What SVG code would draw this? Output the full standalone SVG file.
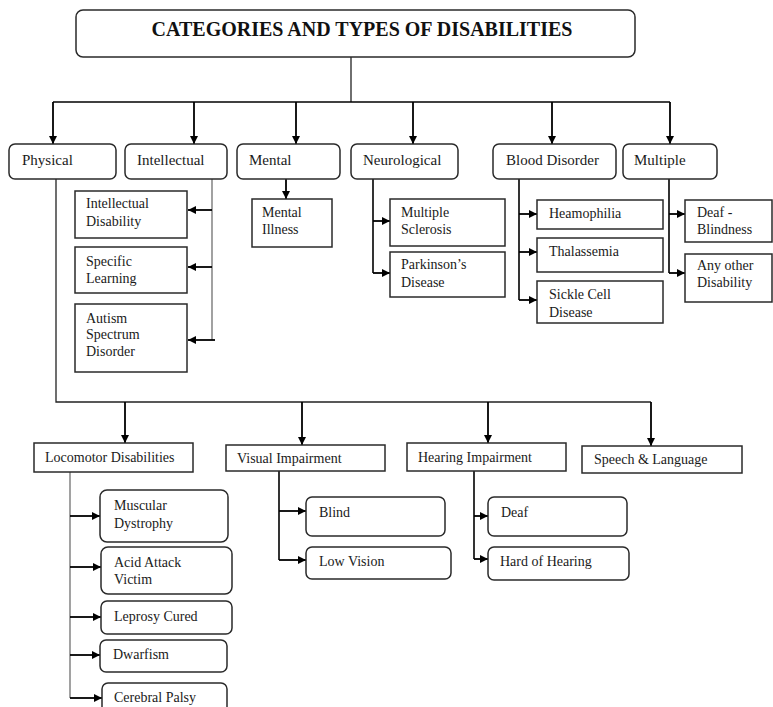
<svg xmlns="http://www.w3.org/2000/svg" width="773" height="707" viewBox="0 0 773 707">
<defs>
<marker id="ah" viewBox="0 0 10 10" refX="10" refY="5" markerWidth="8" markerHeight="8" markerUnits="userSpaceOnUse" orient="auto">
<path d="M0,0 L10,5 L0,10 z" fill="#000"/>
</marker>
<style>
.box{fill:#fff;stroke:#2a2a2a;stroke-width:1.5}
.t{font-family:"Liberation Serif","Times New Roman",serif;font-size:14px;fill:#1a1a1a}
.c{font-family:"Liberation Serif","Times New Roman",serif;font-size:15px;fill:#1a1a1a}
.title{font-family:"Liberation Serif","Times New Roman",serif;font-size:20px;font-weight:bold;fill:#111}
.ln{fill:none;stroke:#000;stroke-width:1.6}
.mid{fill:none;stroke:#222;stroke-width:1.3}
.thin{fill:none;stroke:#555;stroke-width:1.1}
.ar{fill:none;stroke:#000;stroke-width:1.8;marker-end:url(#ah)}
</style>
</defs>
<rect width="773" height="707" fill="#fff"/>

<g id="connectors">
<path class="mid" d="M351,57 V102"/>
<path class="ln" d="M53,102 H670"/>
<path class="ar" d="M53,102 V144"/>
<path class="ar" d="M194,102 V144"/>
<path class="ar" d="M296,102 V144"/>
<path class="ar" d="M413,102 V144"/>
<path class="ar" d="M552,102 V144"/>
<path class="ar" d="M670,102 V144"/>
<path class="thin" d="M212,179 V340"/>
<path class="ar" d="M212,210 H188"/>
<path class="ar" d="M212,267 H188"/>
<path class="ar" d="M215,340 H188"/>
<path class="ar" d="M286,179 V199"/>
<path class="ln" d="M373,179 V273"/>
<path class="ar" d="M373,221 H390"/>
<path class="ar" d="M373,273 H390"/>
<path class="ln" d="M519,179 V300"/>
<path class="ar" d="M519,214 H537"/>
<path class="ar" d="M519,252 H537"/>
<path class="ar" d="M519,300 H537"/>
<path class="ln" d="M669,179 V273"/>
<path class="ar" d="M669,214 H685"/>
<path class="ar" d="M669,273 H685"/>
<path class="mid" d="M56,179 V402 H651"/>
<path class="ar" d="M125,402 V443"/>
<path class="ar" d="M302,402 V445"/>
<path class="ar" d="M488,402 V443"/>
<path class="ar" d="M651,402 V446"/>
<path class="thin" d="M70,472 V698"/>
<path class="ar" d="M70,516 H100"/>
<path class="ar" d="M70,567 H101"/>
<path class="ar" d="M70,617 H101"/>
<path class="ar" d="M70,655 H100"/>
<path class="ar" d="M70,698 H102"/>
<path class="ln" d="M279,471 V560"/>
<path class="ar" d="M279,511 H306"/>
<path class="ar" d="M279,560 H306"/>
<path class="ln" d="M474,471 V559"/>
<path class="ar" d="M474,516 H488"/>
<path class="ar" d="M474,559 H488"/>
</g>

<g id="title"><rect class="box" x="76" y="10" width="559" height="47" rx="7"/><text class="title" x="362" y="36" text-anchor="middle">CATEGORIES AND TYPES OF DISABILITIES</text></g>

<g id="physical"><rect class="box" x="9" y="144" width="107" height="35" rx="6"/><text class="c" x="22" y="165">Physical</text></g>
<g id="intellectual"><rect class="box" x="125" y="144" width="102" height="35" rx="6"/><text class="c" x="137" y="165">Intellectual</text></g>
<g id="mental"><rect class="box" x="237" y="144" width="103" height="35" rx="6"/><text class="c" x="249" y="165">Mental</text></g>
<g id="neurological"><rect class="box" x="351" y="144" width="107" height="35" rx="6"/><text class="c" x="363" y="165">Neurological</text></g>
<g id="blood"><rect class="box" x="493" y="144" width="123" height="35" rx="6"/><text class="c" x="506" y="165">Blood Disorder</text></g>
<g id="multiple"><rect class="box" x="623" y="144" width="94" height="35" rx="6"/><text class="c" x="634" y="165">Multiple</text></g>

<g id="intellectual-disability"><rect class="box" x="75" y="191" width="112" height="47"/><text class="t" x="86" y="208">Intellectual</text><text class="t" x="86" y="226">Disability</text></g>
<g id="specific-learning"><rect class="box" x="75" y="247" width="112" height="46"/><text class="t" x="86" y="266">Specific</text><text class="t" x="86" y="283">Learning</text></g>
<g id="autism"><rect class="box" x="75" y="304" width="112" height="68"/><text class="t" x="86" y="323">Autism</text><text class="t" x="86" y="339">Spectrum</text><text class="t" x="86" y="356">Disorder</text></g>

<g id="mental-illness"><rect class="box" x="252" y="199" width="80" height="48"/><text class="t" x="262" y="217">Mental</text><text class="t" x="262" y="234">Illness</text></g>

<g id="ms"><rect class="box" x="390" y="199" width="115" height="47"/><text class="t" x="401" y="217">Multiple</text><text class="t" x="401" y="234">Sclerosis</text></g>
<g id="parkinsons"><rect class="box" x="390" y="252" width="115" height="45"/><text class="t" x="401" y="269">Parkinson’s</text><text class="t" x="401" y="287">Disease</text></g>

<g id="heamophilia"><rect class="box" x="537" y="200" width="126" height="29"/><text class="t" x="549" y="218">Heamophilia</text></g>
<g id="thalassemia"><rect class="box" x="537" y="238" width="126" height="34"/><text class="t" x="549" y="256">Thalassemia</text></g>
<g id="sickle"><rect class="box" x="537" y="281" width="126" height="42"/><text class="t" x="549" y="299">Sickle Cell</text><text class="t" x="549" y="317">Disease</text></g>

<g id="deaf-blindness"><rect class="box" x="685" y="200" width="87" height="42"/><text class="t" x="697" y="217">Deaf -</text><text class="t" x="697" y="234">Blindness</text></g>
<g id="any-other"><rect class="box" x="685" y="254" width="87" height="48"/><text class="t" x="697" y="270">Any other</text><text class="t" x="697" y="287">Disability</text></g>

<g id="locomotor"><rect class="box" x="34" y="443" width="159" height="29"/><text class="t" x="45" y="462">Locomotor Disabilities</text></g>
<g id="visual"><rect class="box" x="226" y="445" width="159" height="26"/><text class="t" x="237" y="463">Visual Impairment</text></g>
<g id="hearing"><rect class="box" x="407" y="443" width="159" height="28"/><text class="t" x="418" y="462">Hearing Impairment</text></g>
<g id="speech"><rect class="box" x="582" y="446" width="160" height="27"/><text class="t" x="594" y="464">Speech &amp; Language</text></g>

<g id="muscular"><rect class="box" x="100" y="490" width="128" height="52" rx="7"/><text class="t" x="114" y="510">Muscular</text><text class="t" x="114" y="528">Dystrophy</text></g>
<g id="acid"><rect class="box" x="101" y="547" width="131" height="47" rx="7"/><text class="t" x="114" y="567">Acid Attack</text><text class="t" x="114" y="584">Victim</text></g>
<g id="leprosy"><rect class="box" x="101" y="601" width="131" height="33" rx="6"/><text class="t" x="114" y="621">Leprosy Cured</text></g>
<g id="dwarfism"><rect class="box" x="100" y="640" width="127" height="32" rx="6"/><text class="t" x="113" y="659">Dwarfism</text></g>
<g id="cerebral"><rect class="box" x="102" y="683" width="125" height="40" rx="6"/><text class="t" x="114" y="702">Cerebral Palsy</text></g>

<g id="blind"><rect class="box" x="306" y="497" width="139" height="39" rx="6"/><text class="t" x="319" y="517">Blind</text></g>
<g id="low-vision"><rect class="box" x="306" y="547" width="145" height="32" rx="6"/><text class="t" x="319" y="566">Low Vision</text></g>
<g id="deaf"><rect class="box" x="488" y="497" width="139" height="39" rx="6"/><text class="t" x="501" y="517">Deaf</text></g>
<g id="hard-of-hearing"><rect class="box" x="488" y="547" width="141" height="33" rx="6"/><text class="t" x="500" y="566">Hard of Hearing</text></g>
</svg>
